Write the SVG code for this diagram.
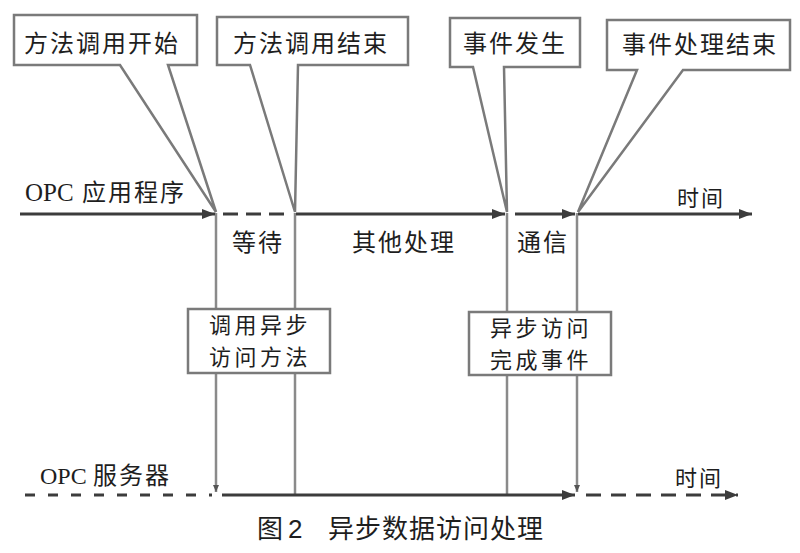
<svg xmlns="http://www.w3.org/2000/svg" width="800" height="553" viewBox="0 0 800 553">
<style>
.bg{fill:#ffffff}
.box{fill:#ffffff;stroke:#7a7a7a;stroke-width:2.5;stroke-linejoin:miter}
.tl{stroke:#3c3c3c;stroke-width:3;fill:none}
.dash1{stroke-dasharray:15 8}
.dash2{stroke-dasharray:10 13}
.dash3{stroke-dasharray:15 10}
.vl{stroke:#8a8a8a;stroke-width:2.5;fill:none}
.t{font-family:"Noto Sans CJK SC","Liberation Serif",serif;font-size:24px;fill:#1e1e1e;letter-spacing:2px}
.t2{font-family:"Noto Sans CJK SC","Liberation Serif",serif;font-size:22px;fill:#1e1e1e;letter-spacing:3.5px}
.lat{font-family:"Liberation Serif",serif;letter-spacing:0}
.small{font-size:22px}
.cap{font-family:"Noto Sans CJK SC","Liberation Sans",sans-serif;font-size:26px;fill:#1e1e1e;letter-spacing:1px}
</style>
<defs>
<marker id="ah" markerUnits="userSpaceOnUse" markerWidth="13" markerHeight="10" refX="13" refY="5" orient="auto">
<path d="M0,0 L13,5 L0,10 Z" fill="#3c3c3c"/>
</marker>
<marker id="ahs" markerUnits="userSpaceOnUse" markerWidth="7" markerHeight="6" refX="7" refY="3" orient="auto">
<path d="M0,0 L7,3 L0,6 Z" fill="#555555"/>
</marker>
</defs>
<rect class="bg" x="0" y="0" width="800" height="553"/>

<g id="connectors">
<line class="vl" x1="216" y1="213" x2="216" y2="492" marker-end="url(#ahs)"/>
<line class="vl" x1="295" y1="213" x2="295" y2="495"/>
<line class="vl" x1="507" y1="213" x2="507" y2="495"/>
<line class="vl" x1="577" y1="213" x2="577" y2="492" marker-end="url(#ahs)"/>
<line class="tl" x1="20" y1="214" x2="215" y2="214" marker-end="url(#ah)"/>
<line class="tl dash1" x1="223" y1="214" x2="292" y2="214"/>
<line class="tl" x1="296" y1="214" x2="505" y2="214" marker-end="url(#ah)"/>
<line class="tl" x1="515" y1="214" x2="575" y2="214" marker-end="url(#ah)"/>
<line class="tl" x1="578" y1="214" x2="752" y2="214" marker-end="url(#ah)"/>
<line class="tl dash2" x1="25" y1="495" x2="212" y2="495"/>
<line class="tl" x1="222" y1="495" x2="575" y2="495" marker-end="url(#ah)"/>
<line class="tl dash3" x1="586" y1="495" x2="738" y2="495" marker-end="url(#ah)"/>
</g>

<g id="callout-method-start">
<path class="box" d="M14,15 H197 V65 H168 L216,212 L120,65 H14 Z"/>
<text class="t" x="24" y="52">方法调用开始</text>
</g>
<g id="callout-method-end">
<path class="box" d="M217,17 H408 V65 H298 L295,212 L250,65 H217 Z"/>
<text class="t" x="233" y="52">方法调用结束</text>
</g>
<g id="callout-event-occur">
<path class="box" d="M450,18 H580 V67 H504 L507,212 L473,67 H450 Z"/>
<text class="t" x="463" y="52">事件发生</text>
</g>
<g id="callout-event-end">
<path class="box" d="M607,20 H790 V70 H683 L578,212 L637,70 H607 Z"/>
<text class="t" x="622" y="53">事件处理结束</text>
</g>

<g id="box-call-async">
<rect class="box" x="188" y="309" width="142" height="64"/>
<text class="t2" x="209" y="333">调用异步</text>
<text class="t2" x="209" y="365">访问方法</text>
</g>
<g id="box-async-complete">
<rect class="box" x="469" y="312" width="142" height="63"/>
<text class="t2" x="490" y="336">异步访问</text>
<text class="t2" x="490" y="368">完成事件</text>
</g>

<g id="label-app">
<text class="t" x="25" y="201"><tspan class="lat" style="font-size:25px">OPC</tspan><tspan x="82">应用程序</tspan></text>
</g>
<g id="label-server">
<text class="t" x="40" y="484"><tspan class="lat" style="font-size:24px">OPC</tspan><tspan x="93">服务器</tspan></text>
</g>
<g id="label-wait"><text class="t" x="232" y="251">等待</text></g>
<g id="label-other"><text class="t" x="352" y="251">其他处理</text></g>
<g id="label-comm"><text class="t" x="517" y="251">通信</text></g>
<g id="label-time-top"><text class="t small" x="677" y="206">时间</text></g>
<g id="label-time-bottom"><text class="t small" x="675" y="486">时间</text></g>
<g id="caption">
<text class="cap" y="538"><tspan x="257">图</tspan><tspan x="288" style="font-family:'Liberation Sans',sans-serif">2</tspan><tspan x="328">异步数据访问处理</tspan></text>
</g>
</svg>
